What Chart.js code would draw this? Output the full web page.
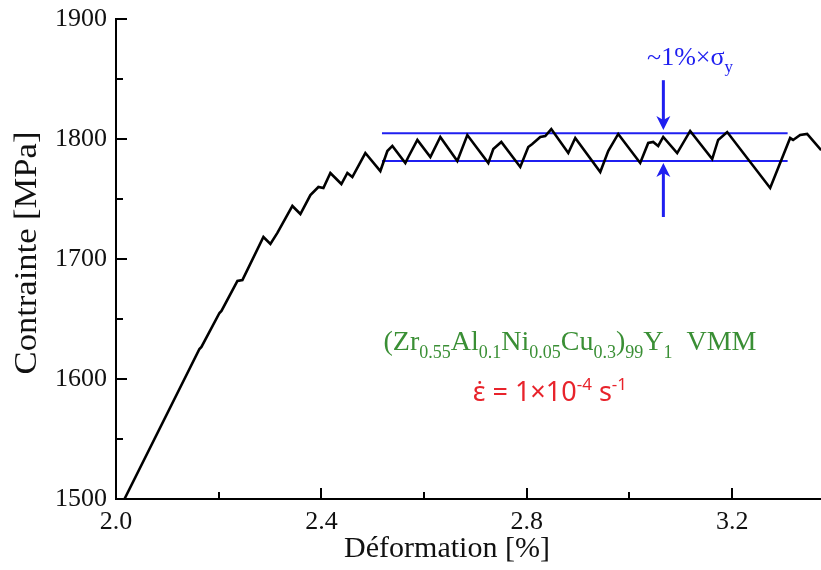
<!DOCTYPE html>
<html>
<head>
<meta charset="utf-8">
<script src="https://cdn.jsdelivr.net/npm/chart.js@4.4.1/dist/chart.umd.min.js"></script>
<style>
  html, body { margin: 0; padding: 0; background: #fff; }
</style>
</head>
<body>
<canvas id="stressChart" width="821" height="570"></canvas>
<script>
// --- data ---
const strain = [2.0165, 2.1625, 2.1664, 2.2015, 2.2054, 2.2365, 2.2462, 2.2871, 2.3007, 2.3143,
  2.3435, 2.3591, 2.3786, 2.3942, 2.4039, 2.4175, 2.4389, 2.4506, 2.4603, 2.4856,
  2.5148, 2.5285, 2.5382, 2.5635, 2.5693, 2.5869, 2.6122, 2.6316, 2.6647, 2.6842,
  2.7251, 2.7348, 2.7504, 2.7873, 2.8029, 2.8107, 2.8263, 2.8360, 2.8477, 2.8808,
  2.8944, 2.9431, 2.9586, 2.9781, 3.0209, 3.0365, 3.0462, 3.0559, 3.0657, 3.0929,
  3.1182, 3.1611, 3.1727, 3.1903, 3.2740, 3.3129, 3.3187, 3.3324, 3.3460, 3.3733];
const stress = [1500, 1625, 1626.7, 1655, 1656.7, 1681.7, 1682.5, 1718.3, 1712.5, 1721.7,
  1744.2, 1737.5, 1753.3, 1760, 1759.2, 1771.7, 1762.5, 1771.7, 1768.3, 1788.3,
  1773.3, 1790, 1794.2, 1780, 1785, 1799.2, 1785, 1801.7, 1781.7, 1803.3,
  1780, 1791.7, 1797.5, 1776.7, 1793.3, 1795.8, 1801.7, 1802.5, 1808.3, 1788.3,
  1800.8, 1772.5, 1790, 1804.2, 1780, 1796.7, 1797.5, 1794.2, 1801.7, 1788.3,
  1806.7, 1783.3, 1799.2, 1805.8, 1759.2, 1800.8, 1799.2, 1803.3, 1804.2, 1790.8];

// serration band (~1% of yield stress)
const bandStrain = [2.518, 3.308];
const bandHigh = [1804.7, 1804.7];
const bandLow = [1781.7, 1781.7];

// axes
const xMajorTicks = [2.0, 2.4, 2.8, 3.2];
const xMinorTicks = [2.2, 2.6, 3.0];
const yMajorTicks = [1500, 1600, 1700, 1800, 1900];
const yMinorTicks = [1550, 1650, 1750, 1850];

// annotation anchors (data coordinates)
const arrowStrain = 3.066;
const arrowDown = [1849, 1807.5];
const arrowUp = [1735, 1780];

const BLUE = '#1f1ff0';
const SERIF = '"Liberation Serif", "DejaVu Serif", serif';

// draws a run of normal / sub / sup text pieces starting at x
function drawRuns(ctx, x, y, runs, size, family, color, align) {
  const small = Math.round(size * 0.64);
  const widths = runs.map(([t, k]) => {
    ctx.font = `${k === 'n' ? size : small}px ${family}`;
    return ctx.measureText(t).width;
  });
  const total = widths.reduce((a, b) => a + b, 0);
  let cx = align === 'center' ? x - total / 2 : x;
  ctx.fillStyle = color;
  ctx.textBaseline = 'alphabetic';
  ctx.textAlign = 'left';
  runs.forEach(([t, k], i) => {
    ctx.font = `${k === 'n' ? size : small}px ${family}`;
    const dy = k === 'sub' ? size * 0.28 : k === 'sup' ? -size * 0.38 : 0;
    ctx.fillText(t, cx, y + dy);
    cx += widths[i];
  });
}

function drawArrow(ctx, x, yFrom, yTo) {
  const dir = yTo > yFrom ? 1 : -1;
  ctx.strokeStyle = BLUE;
  ctx.fillStyle = BLUE;
  ctx.lineWidth = 3;
  ctx.beginPath();
  ctx.moveTo(x, yFrom);
  ctx.lineTo(x, yTo - dir * 10);
  ctx.stroke();
  ctx.beginPath();
  ctx.moveTo(x, yTo);
  ctx.lineTo(x - 7, yTo - dir * 14);
  ctx.lineTo(x, yTo - dir * 10);
  ctx.lineTo(x + 7, yTo - dir * 14);
  ctx.closePath();
  ctx.fill();
}

const decorations = {
  id: 'decorations',
  afterDraw(chart) {
    const { ctx, chartArea, scales: { x, y } } = chart;
    ctx.save();

    // inward tick marks
    ctx.strokeStyle = '#000';
    ctx.lineWidth = 2;
    ctx.beginPath();
    xMajorTicks.concat(xMinorTicks).forEach(v => {
      const px = Math.round(x.getPixelForValue(v));
      const len = xMajorTicks.includes(v) ? 11 : 7;
      ctx.moveTo(px, chartArea.bottom);
      ctx.lineTo(px, chartArea.bottom - len);
    });
    yMajorTicks.concat(yMinorTicks).forEach(v => {
      const py = Math.round(y.getPixelForValue(v));
      const len = yMajorTicks.includes(v) ? 11 : 7;
      ctx.moveTo(chartArea.left, py);
      ctx.lineTo(chartArea.left + len, py);
    });
    ctx.stroke();

    // axis titles
    ctx.fillStyle = '#111';
    ctx.font = `30px ${SERIF}`;
    ctx.textAlign = 'center';
    ctx.textBaseline = 'middle';
    ctx.fillText('Déformation [%]', 447, 549);
    ctx.save();
    ctx.translate(28, 253);
    ctx.rotate(-Math.PI / 2);
    ctx.scale(1.08, 1);
    ctx.font = `32px ${SERIF}`;
    ctx.fillText('Contrainte [MPa]', 0, 0);
    ctx.restore();

    // arrows around the band
    const ax = x.getPixelForValue(arrowStrain);
    drawArrow(ctx, ax, y.getPixelForValue(arrowDown[0]), y.getPixelForValue(arrowDown[1]));
    drawArrow(ctx, ax, y.getPixelForValue(arrowUp[0]), y.getPixelForValue(arrowUp[1]));

    // text annotations
    drawRuns(ctx, x.getPixelForValue(3.118), y.getPixelForValue(1862),
      [['~1%×σ', 'n'], ['y', 'sub']], 26, SERIF, BLUE, 'center');

    drawRuns(ctx, x.getPixelForValue(2.521), y.getPixelForValue(1624),
      [['(Zr', 'n'], ['0.55', 'sub'], ['Al', 'n'], ['0.1', 'sub'], ['Ni', 'n'], ['0.05', 'sub'],
       ['Cu', 'n'], ['0.3', 'sub'], [')', 'n'], ['99', 'sub'], ['Y', 'n'], ['1', 'sub'], ['  VMM', 'n']],
      28, SERIF, '#3a8f35', 'left');

    drawRuns(ctx, x.getPixelForValue(2.845), y.getPixelForValue(1582),
      [['ε̇ = 1×10', 'n'], ['-4', 'sup'], [' s', 'n'], ['-1', 'sup']],
      27, '"Noto Sans", "Open Sans", sans-serif', '#e8232b', 'center');

    ctx.restore();
  }
};

new Chart(document.getElementById('stressChart'), {
  type: 'scatter',
  data: {
    datasets: [
      {
        data: strain.map((v, i) => ({ x: v, y: stress[i] })),
        showLine: true,
        borderColor: '#000',
        borderWidth: 2.6,
        pointRadius: 0,
        tension: 0
      },
      {
        data: bandStrain.map((v, i) => ({ x: v, y: bandHigh[i] })),
        showLine: true,
        borderColor: BLUE,
        borderWidth: 2,
        pointRadius: 0
      },
      {
        data: bandStrain.map((v, i) => ({ x: v, y: bandLow[i] })),
        showLine: true,
        borderColor: BLUE,
        borderWidth: 2,
        pointRadius: 0
      }
    ]
  },
  options: {
    responsive: false,
    animation: false,
    devicePixelRatio: 1,
    layout: { padding: { top: 19, right: 0, bottom: 0, left: 0 } },
    plugins: { legend: { display: false }, tooltip: { enabled: false } },
    scales: {
      x: {
        type: 'linear',
        min: 2.0,
        max: 3.373,
        afterFit: s => { s.height = 71; s.paddingLeft = 0; s.paddingRight = 0; },
        afterBuildTicks: s => { s.ticks = xMajorTicks.map(v => ({ value: v })); },
        grid: { display: false, drawTicks: false },
        border: { display: true, color: '#000', width: 2 },
        ticks: {
          padding: 8,
          color: '#111',
          font: { size: 26, family: SERIF },
          callback: v => v.toFixed(1)
        }
      },
      y: {
        type: 'linear',
        min: 1500,
        max: 1900,
        afterFit: s => { s.width = 116; s.paddingTop = 0; s.paddingBottom = 0; },
        afterBuildTicks: s => { s.ticks = yMajorTicks.map(v => ({ value: v })); },
        grid: { display: false, drawTicks: false },
        border: { display: true, color: '#000', width: 2 },
        ticks: {
          padding: 9,
          color: '#111',
          font: { size: 26, family: SERIF },
          callback: v => String(v)
        }
      }
    }
  },
  plugins: [decorations]
});
</script>
</body>
</html>
